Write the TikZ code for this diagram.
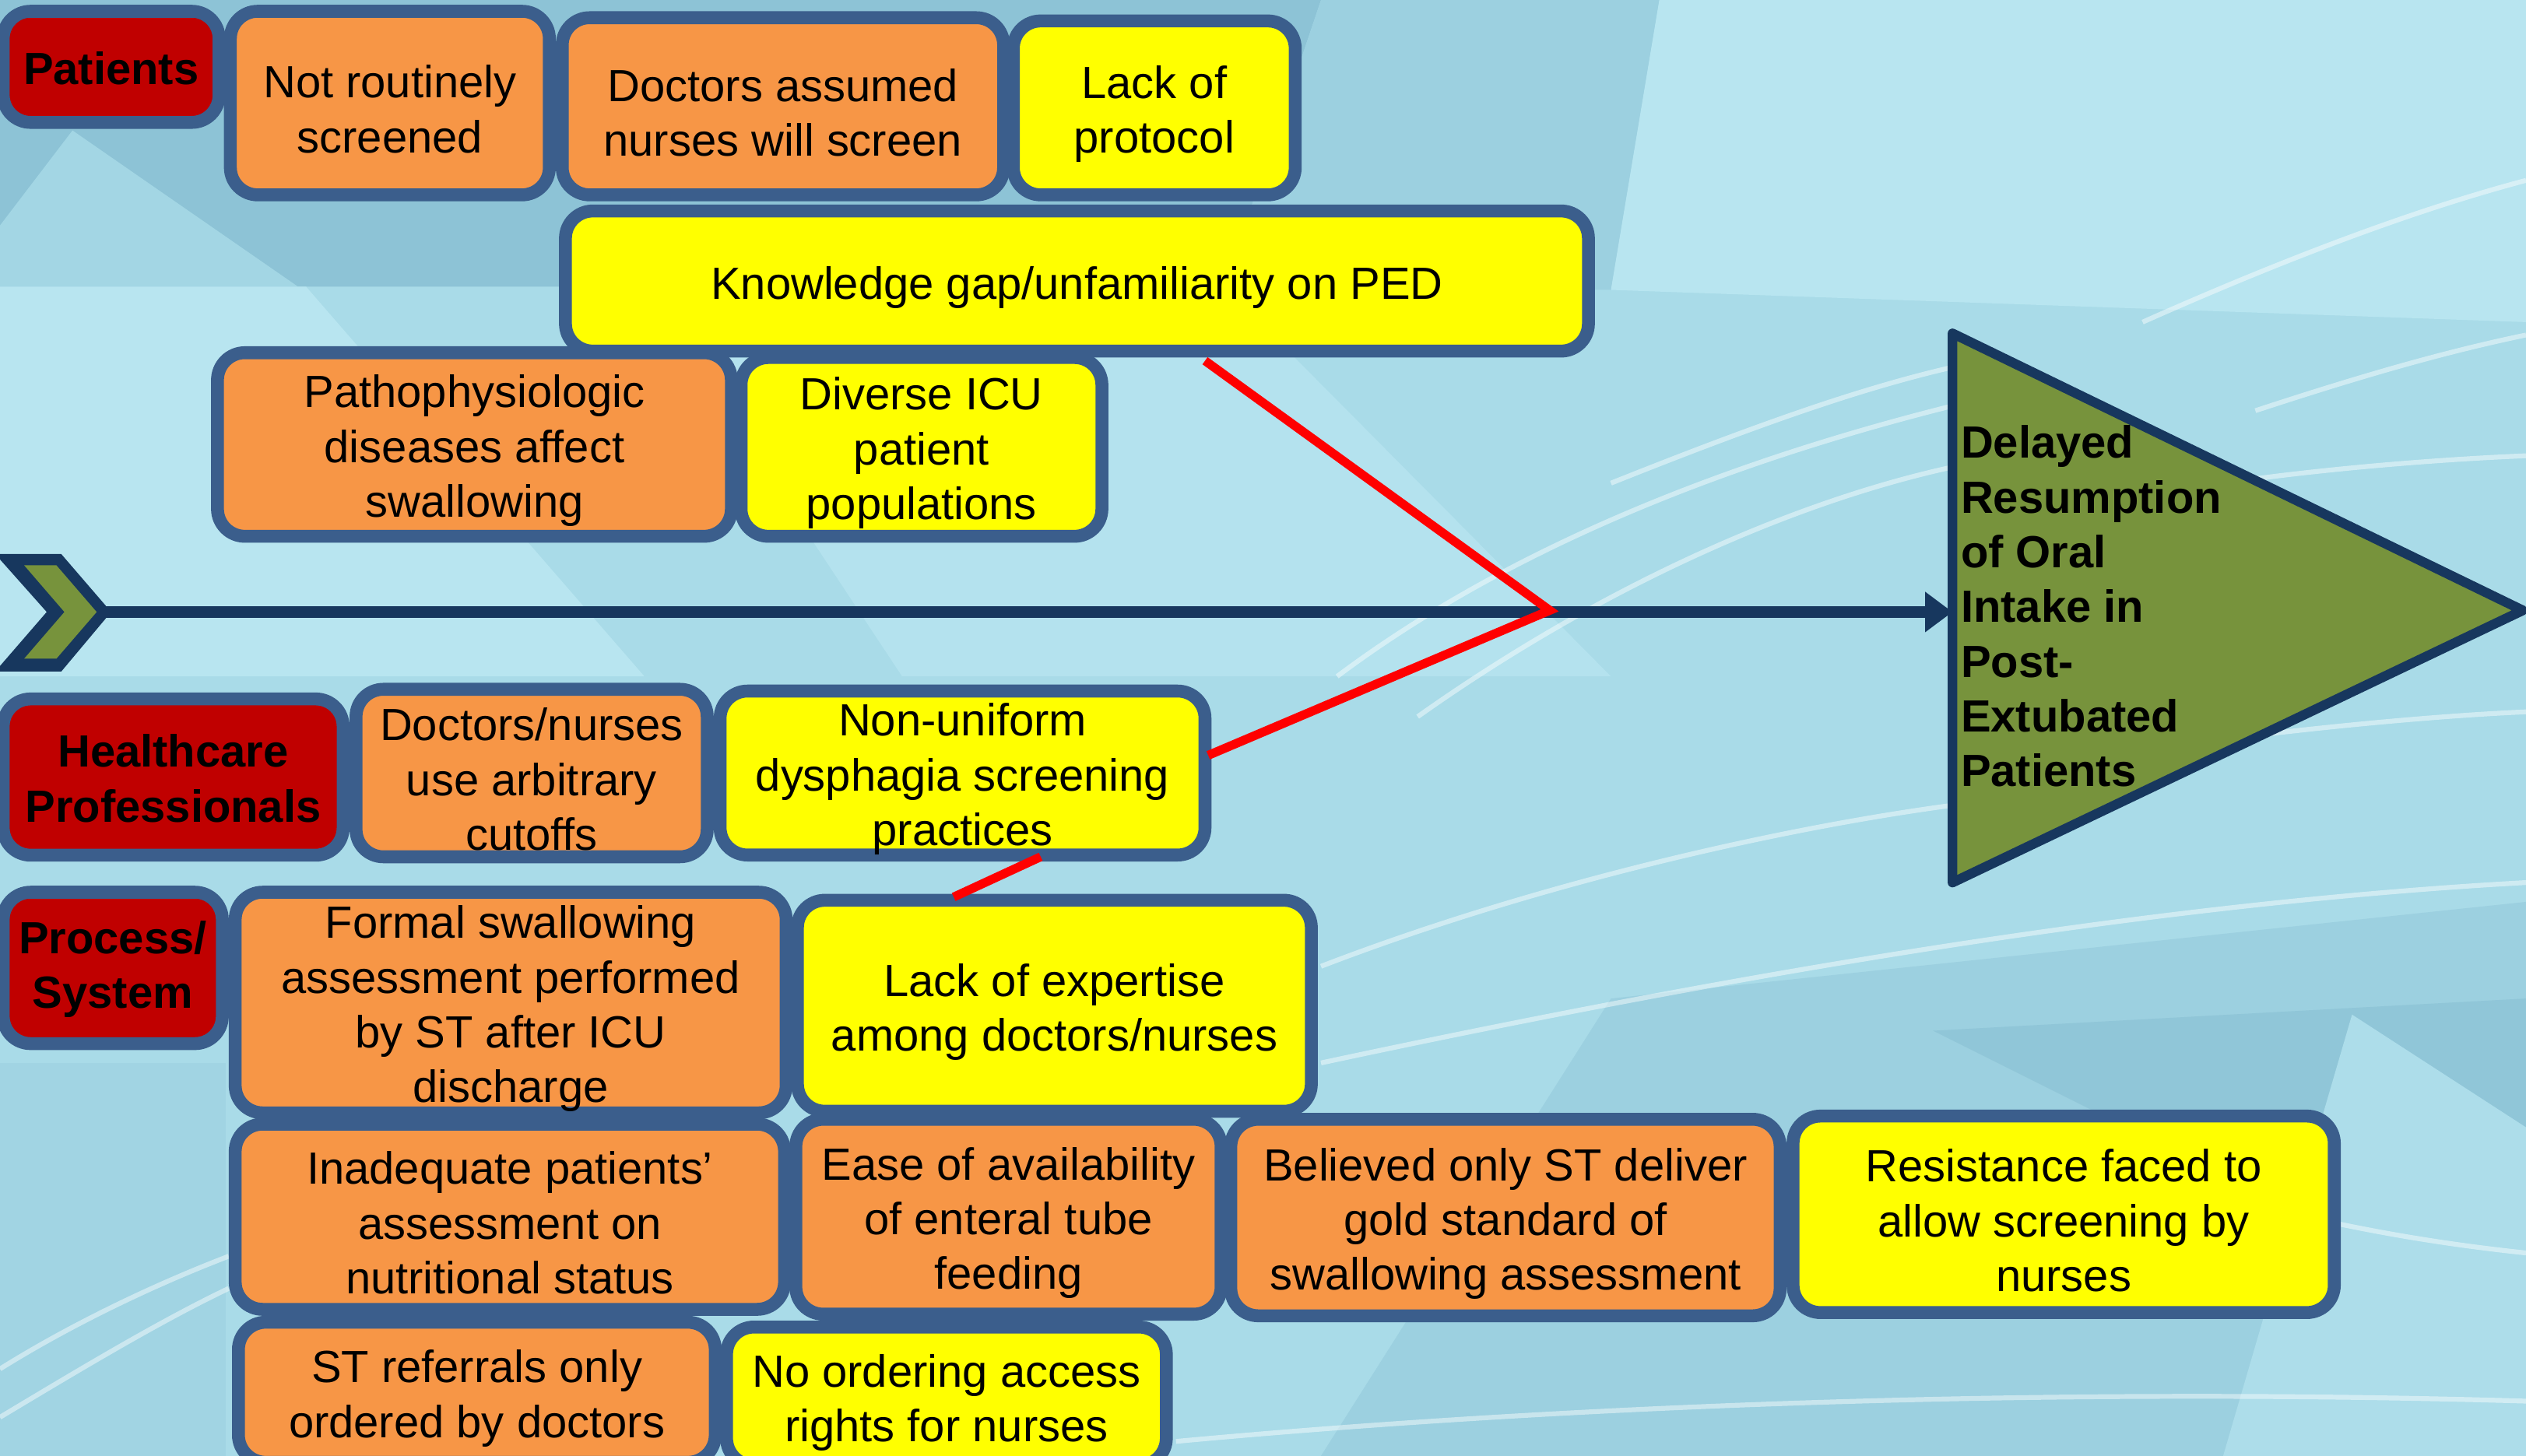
\documentclass[tikz,border=0pt]{standalone}
\usepackage{fontspec}
\setmainfont{Liberation Sans}
\usetikzlibrary{arrows.meta}
\definecolor{bgbase}{HTML}{A9DBE8}
\definecolor{bgdark}{HTML}{8DC3D6}
\definecolor{bgmid}{HTML}{9CD0E0}
\definecolor{bglight}{HTML}{B8E5F0}
\definecolor{bblue}{HTML}{3B5E8C}
\definecolor{navy}{HTML}{17375E}
\definecolor{boxorange}{HTML}{F79646}
\definecolor{boxyellow}{HTML}{FFFF00}
\definecolor{boxred}{HTML}{C00000}
\definecolor{olive}{HTML}{77933C}
\definecolor{linkred}{HTML}{FF0000}
\newcommand\fbx[7]{\node[box, fill=#6, minimum width={#4-#2-8}, minimum height={#5-#3-8}] (#1) at ({(#2+#4)/2},{(#3+#5)/2}) {\rule{0pt}{28pt}#7};}
\newcommand\rbx[6]{\node[box, fill=boxred, font=\bfseries\fontsize{28}{34}\selectfont, minimum width={#4-#2-8}, minimum height={#5-#3-8}] (#1) at ({(#2+#4)/2},{(#3+#5)/2}) {\rule{0pt}{22pt}#6};}
\begin{document}
\begin{tikzpicture}[x=1pt,y=-1pt,
  box/.style={draw=bblue, line width=8pt, rounded corners=17pt, inner sep=0pt, align=center,
    font=\fontsize{28}{34}\selectfont, text=black},
  lbl/.style={font=\bfseries\fontsize{28}{34}\selectfont},
  bgcurve/.style={draw=white, opacity=0.45, line width=3pt},
  rline/.style={draw=linkred, line width=5.5pt}]
\useasboundingbox (0,0) rectangle (1568,904);
% background
\fill[bgbase] (0,0) rectangle (1568,904);
\fill[bgdark] (0,0) -- (820,0) -- (760,178) -- (0,178) -- cycle;
\fill[bgmid] (820,0) -- (1030,0) -- (1000,180) -- (760,178) -- cycle;
\fill[bglight] (1030,0) -- (1568,0) -- (1568,200) -- (1000,180) -- cycle;
\fill[bgbase!80!bgdark] (45,81) -- (185,178) -- (0,178) -- (0,140) -- cycle;
\fill[bglight] (0,178) -- (190,178) -- (400,420) -- (0,420) -- cycle;
\fill[bglight!70!bgbase] (400,178) -- (760,178) -- (1000,420) -- (560,420) -- cycle;
\fill[bgmid] (1000,620) -- (1568,560) -- (1568,904) -- (820,904) -- cycle;
\fill[bgdark!80!bgmid] (1200,640) -- (1568,620) -- (1568,760) -- (1320,700) -- cycle;
\fill[bglight!60!bgmid] (1460,630) -- (1568,700) -- (1568,904) -- (1380,904) -- cycle;
\fill[bgmid!60!bgbase] (0,660) -- (140,660) -- (140,904) -- (0,904) -- cycle;
% background curves
\draw[bgcurve] (830,420) .. controls (950,330) and (1100,280) .. (1212,252);
\draw[bgcurve] (880,445) .. controls (1000,360) and (1120,310) .. (1212,290);
\draw[bgcurve] (1000,300) .. controls (1100,260) and (1160,240) .. (1212,228);
\draw[bgcurve] (1330,200) .. controls (1420,160) and (1500,130) .. (1568,112);
\draw[bgcurve] (1400,255) .. controls (1470,232) and (1520,218) .. (1568,208);
\draw[bgcurve] (1380,300) .. controls (1450,290) and (1520,285) .. (1568,283);
\draw[bgcurve] (820,600) .. controls (950,550) and (1100,515) .. (1212,500);
\draw[bgcurve] (820,660) .. controls (1100,600) and (1350,560) .. (1568,548);
\draw[bgcurve] (1300,470) .. controls (1400,455) and (1500,445) .. (1568,442);
\draw[bgcurve] (1452,760) .. controls (1500,770) and (1540,775) .. (1568,778);
\draw[bgcurve] (730,895) .. controls (1000,870) and (1300,862) .. (1568,870);
\draw[bgcurve] (0,880) .. controls (50,850) and (100,820) .. (142,800);
\draw[bgcurve] (0,850) .. controls (40,825) and (90,800) .. (142,780);
% spine
\coordinate (spS) at (60,380);
\coordinate (spE) at (1212,380);
\draw[navy, line width=7pt, -{Triangle[length=17pt,width=24pt]}] (spS) -- (spE);
\fill[navy] (-3,344) -- (38,344) -- (69,380) -- (38,417) -- (-3,417) -- (29,380) -- cycle;
\fill[olive] (15,351) -- (35,351) -- (60,380) -- (35,409) -- (15,409) -- (40,380) -- cycle;
% effect triangle
\coordinate (tA) at (1212,207);
\coordinate (tB) at (1212,548);
\coordinate (tC) at (1566,379);
\draw[navy, line width=6pt, fill=olive, line join=round] (tA) -- (tC) -- (tB) -- cycle;
\node[lbl, anchor=north west, align=left, inner sep=0pt] (effect) at (1217,264)
  {Delayed\\Resumption\\of Oral\\Intake in\\Post-\\Extubated\\Patients};
% boxes
\rbx{pat}{-2}{3}{140}{80}{Patients}
\fbx{nrs}{139}{3}{345}{125}{boxorange}{Not routinely\\screened}
\fbx{dan}{345}{7}{627}{125}{boxorange}{Doctors assumed\\nurses will screen}
\fbx{lop}{625}{9}{808}{125}{boxyellow}{Lack of\\protocol}
\fbx{kg}{347}{127}{990}{222}{boxyellow}{Knowledge gap/unfamiliarity on PED}
\fbx{patho}{131}{215}{458}{337}{boxorange}{Pathophysiologic\\diseases affect\\swallowing}
\fbx{dicu}{456}{218}{688}{337}{boxyellow}{Diverse ICU\\patient\\populations}
\rbx{hp}{-2}{430}{217}{535}{Healthcare\\Professionals}
\fbx{dn}{217}{424}{443}{536}{boxorange}{Doctors/nurses\\use arbitrary\\cutoffs}
\fbx{nu}{443}{426}{752}{534}{boxyellow}{Non-uniform\\dysphagia screening\\practices}
\rbx{ps}{-2}{550}{142}{652}{Process/\\System}
\fbx{fsa}{142}{550}{492}{695}{boxorange}{Formal swallowing\\assessment performed\\by ST after ICU\\discharge}
\fbx{le}{491}{555}{818}{694}{boxyellow}{Lack of expertise\\among doctors/nurses}
\fbx{ina}{142}{694}{491}{817}{boxorange}{Inadequate patients’\\assessment on\\nutritional status}
\fbx{ease}{490}{691}{762}{820}{boxorange}{Ease of availability\\of enteral tube\\feeding}
\fbx{bel}{760}{691}{1109}{821}{boxorange}{Believed only ST deliver\\gold standard of\\swallowing assessment}
\fbx{res}{1109}{689}{1453}{819}{boxyellow}{Resistance faced to\\allow screening by\\nurses}
\fbx{str}{144}{817}{448}{912}{boxorange}{ST referrals only\\ordered by doctors}
\fbx{noa}{447}{820}{728}{914}{boxyellow}{No ordering access\\rights for nurses}
% red connectors
\coordinate (jn) at (962,379);
\coordinate (kgEnd) at (748,224);
\coordinate (nuEnd) at (750,469);
\coordinate (nuBot) at (646,532);
\coordinate (leTop) at (592,557);
\draw[rline] (kgEnd) -- (jn) -- (nuEnd);
\draw[rline] (nuBot) -- (leTop);
\end{tikzpicture}
\end{document}
